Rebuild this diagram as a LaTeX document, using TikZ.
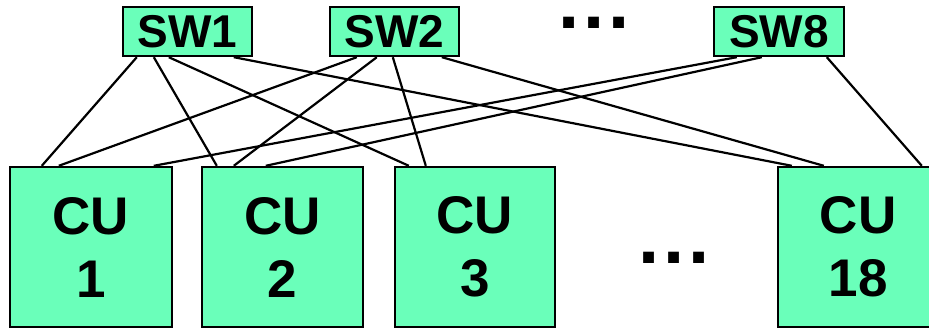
\documentclass[tikz,border=0pt]{standalone}
\usepackage{fontspec}
\setmainfont{Liberation Sans}
\definecolor{boxgreen}{RGB}{106,255,186}
\begin{document}
\begin{tikzpicture}[x=1pt,y=-1pt,
  swbox/.style={draw=black,line width=2.4pt,fill=boxgreen,minimum width=129pt,minimum height=49pt,inner sep=0pt,text height=33pt,text depth=0pt,font=\fontsize{46}{50}\selectfont\bfseries},
  cubox/.style={draw=black,line width=2.4pt,fill=boxgreen,minimum width=160pt,minimum height=160pt,inner sep=0pt,align=center,font=\fontsize{53}{63}\selectfont\bfseries},
  link/.style={draw=black,line width=2.2pt},
  dotsstyle/.style={inner sep=0pt,anchor=base,text height=11pt,text depth=0pt,font=\fontsize{76}{80}\selectfont\bfseries}]
\useasboundingbox (0,0) rectangle (929,328);
\node[swbox] (sw1) at (187.5,31.5) {SW1};
\node[swbox] (sw2) at (394.5,31.5) {SW2};
\node[swbox,minimum width=130pt] (sw8) at (779,31.5) {SW8};
\node[dotsstyle] (dtop) at (594.5,29) {.\kern3.9pt.\kern3.9pt.};
\node[cubox,minimum width=162pt] (cu1) at (91,247) {CU\\1};
\node[cubox,minimum width=161pt] (cu2) at (282.5,247) {CU\\2};
\node[cubox] (cu3) at (475,247) {CU\\3};
\node[cubox] (cu18) at (858,247) {CU\\18};
\node[dotsstyle] (dbot) at (674,264) {.\kern3.9pt.\kern3.9pt.};
% SW1
\draw[link] ([xshift=15pt]sw1.south west) -- ([xshift=33pt]cu1.north west);
\draw[link] ([xshift=32pt]sw1.south west) -- ([xshift=16pt]cu2.north west);
\draw[link] ([xshift=47pt]sw1.south west) -- ([xshift=15pt]cu3.north west);
\draw[link] ([xshift=112pt]sw1.south west) -- ([xshift=15pt]cu18.north west);
% SW2
\draw[link] ([xshift=28pt]sw2.south west) -- ([xshift=50pt]cu1.north west);
\draw[link] ([xshift=48pt]sw2.south west) -- ([xshift=33pt]cu2.north west);
\draw[link] ([xshift=64pt]sw2.south west) -- ([xshift=32pt]cu3.north west);
\draw[link] ([xshift=113pt]sw2.south west) -- ([xshift=47pt]cu18.north west);
% SW8
\draw[link] ([xshift=24pt]sw8.south west) -- ([xshift=145pt]cu1.north west);
\draw[link] ([xshift=49pt]sw8.south west) -- ([xshift=65pt]cu2.north west);
\draw[link] ([xshift=114pt]sw8.south west) -- ([xshift=145pt]cu18.north west);
\end{tikzpicture}
\end{document}
